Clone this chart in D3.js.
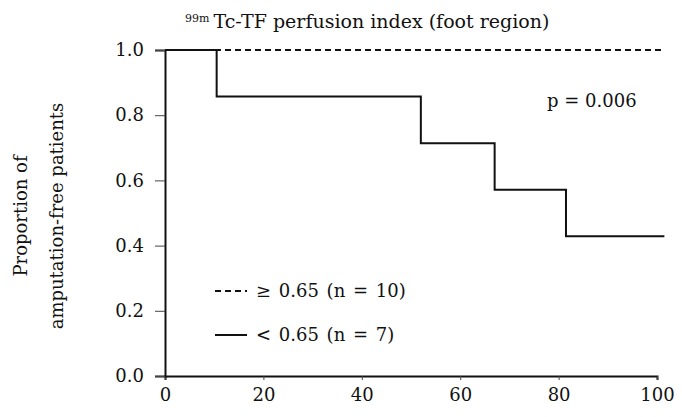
<!DOCTYPE html>
<html>
<head>
<meta charset="utf-8">
<script src="https://cdn.jsdelivr.net/npm/d3@7"></script>
<style>
  body { margin: 0; background: #fff; }
  svg { display: block; }
  text { font-family: "DejaVu Serif", "Liberation Serif", serif; fill: #111; }
</style>
</head>
<body>
<div id="chart"></div>
<script>
// data
const xTicks = [0, 20, 40, 60, 80, 100];
const yTicks = [0.0, 0.2, 0.4, 0.6, 0.8, 1.0];
// follow-up (x) and proportion amputation-free for each group
const highTimes = [0, 101.5];
const highValues = [1.0, 1.0];
const lowTimes = [0, 10.5, 52, 67, 81.5, 101.5];
const lowValues = [1.0, 0.857, 0.714, 0.571, 0.429, 0.429];
const legendLabels = ["\u2265 0.65 (n = 10)", "< 0.65 (n = 7)"];

const width = 682;
const height = 417;
const margin = { top: 50, right: 25, bottom: 41, left: 165 };
const fontSize = 18;

const svg = d3.select("#chart")
  .append("svg")
  .attr("width", width)
  .attr("height", height);

const x = d3.scaleLinear().domain([0, 100]).range([margin.left, width - margin.right]);
const y = d3.scaleLinear().domain([0, 1]).range([height - margin.bottom, margin.top]);

// axes
const xAxis = svg.append("g")
  .attr("transform", `translate(0, ${y(0)})`)
  .call(d3.axisBottom(x).tickValues(xTicks).tickSize(4).tickPadding(8).tickFormat(d3.format("d")));
xAxis.select(".domain").attr("stroke-width", 2).attr("stroke", "#111");
xAxis.selectAll("text").attr("font-size", fontSize);

const yAxis = svg.append("g")
  .attr("transform", `translate(${x(0)}, 0)`)
  .call(d3.axisLeft(y).tickValues(yTicks).tickSize(10).tickPadding(11).tickFormat(d3.format(".1f")));
yAxis.select(".domain").attr("stroke-width", 2).attr("stroke", "#111");
yAxis.selectAll("text").attr("font-size", fontSize);
svg.selectAll(".tick text").style("font-family", "DejaVu Serif, serif");
svg.selectAll(".tick line").attr("stroke", "#444");

// step lines
const line = d3.line()
  .x(d => x(d[0]))
  .y(d => y(d[1]))
  .curve(d3.curveStepAfter);

svg.append("path")
  .datum(d3.zip(highTimes, highValues))
  .attr("d", line)
  .attr("fill", "none")
  .attr("stroke", "#111")
  .attr("stroke-width", 1.8)
  .attr("stroke-dasharray", "6,4");

svg.append("path")
  .datum(d3.zip(lowTimes, lowValues))
  .attr("d", line)
  .attr("fill", "none")
  .attr("stroke", "#111")
  .attr("stroke-width", 2);

// title
const title = svg.append("text")
  .attr("x", 185)
  .attr("y", 28)
  .attr("font-size", 19);
title.append("tspan").attr("font-size", 11).attr("dy", "-6").text("99m");
title.append("tspan").attr("dx", 4).attr("dy", "6").text("Tc-TF perfusion index (foot region)");

// y label
const yLabel = svg.append("text")
  .attr("transform", `translate(0, 216) rotate(-90)`)
  .attr("text-anchor", "middle")
  .attr("font-size", fontSize);
yLabel.append("tspan").attr("x", 0).attr("y", 27).text("Proportion of");
yLabel.append("tspan").attr("x", 0).attr("y", 63).text("amputation-free patients");

// p value
svg.append("text")
  .attr("x", 547)
  .attr("y", 107)
  .attr("font-size", fontSize)
  .text("p = 0.006");

// legend
const legendY = [291, 335];
const legend = svg.append("g");
legend.selectAll("line")
  .data(legendLabels)
  .join("line")
  .attr("x1", 215).attr("x2", 247)
  .attr("y1", (d, i) => legendY[i]).attr("y2", (d, i) => legendY[i])
  .attr("stroke", "#111")
  .attr("stroke-width", (d, i) => i === 0 ? 1.8 : 2)
  .attr("stroke-dasharray", (d, i) => i === 0 ? "6,4" : null);
legend.selectAll("text")
  .data(legendLabels)
  .join("text")
  .attr("x", 256)
  .attr("y", (d, i) => legendY[i] + 6)
  .attr("font-size", fontSize)
  .attr("word-spacing", 2)
  .text(d => d);
</script>
</body>
</html>
